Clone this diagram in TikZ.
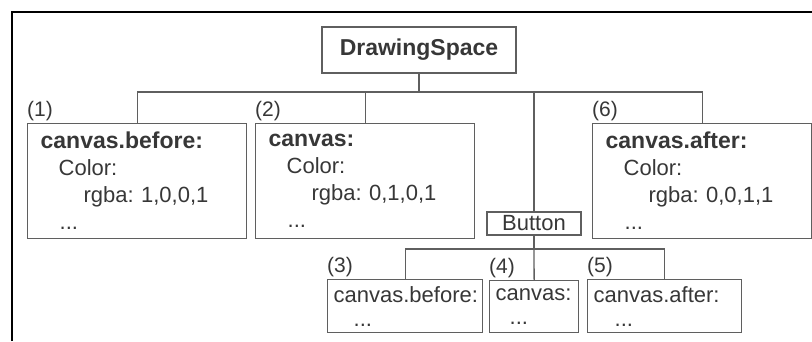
\documentclass[tikz,border=0pt]{standalone}
\usepackage{fontspec}
\setmainfont{Liberation Sans}
\usetikzlibrary{positioning,calc}
\usepackage{xcolor}
\definecolor{inkgray}{RGB}{55,55,55}
\definecolor{linegray}{RGB}{95,95,95}
\frenchspacing

\begin{document}
\begin{tikzpicture}[x=1pt,y=-1pt,
  bigbox/.style={draw=linegray,line width=1.3pt,anchor=north west,align=left,
                 text=inkgray,inner xsep=13pt,inner ysep=0pt,
                 text width=193pt,minimum height=115pt,
                 font=\fontsize{22}{27}\selectfont},
  subbox/.style={draw=linegray,line width=1.3pt,anchor=north west,align=left,
                 text=inkgray,inner xsep=6pt,inner ysep=0pt,minimum height=53pt,
                 font=\fontsize{22}{24}\selectfont},
  title/.style={draw=linegray,line width=1.3pt,text=inkgray,inner sep=0pt,
                font=\fontsize{22}{24}\selectfont},
  num/.style={anchor=south west,inner sep=0pt,yshift=2pt,text=inkgray,
              font=\fontsize{21}{24}\selectfont},
  link/.style={draw=linegray,line width=1.3pt}
]
  \useasboundingbox (0,0) rectangle (812,341);
  % outer frame (only top and left edges show)
  \draw[line width=2pt] (11.5,341) -- (11.5,11.5) -- (812,11.5);

  %% ---- root ----
  \node[title,minimum width=194pt,minimum height=46pt] (space) at (419,50)
    {\fontsize{23}{24}\selectfont\textbf{DrawingSpace}};

  %% ---- the three instructions groups of the widget ----
  \node[bigbox] (before) at (27,123) {
    \textbf{\fontsize{23}{27}\selectfont canvas.before:}\\
    \hspace*{18pt}Color:\\
    \hspace*{43pt}rgba: 1,0,0,1\\
    \hspace*{19pt}...
  };
  \node[bigbox] (canvas) at (255,123) {
    \textbf{\fontsize{23}{27}\selectfont canvas:}\\
    \hspace*{18pt}Color:\\
    \hspace*{43pt}rgba: 0,1,0,1\\
    \hspace*{19pt}...
  };
  \node[bigbox] (after) at (592,123) {
    \textbf{\fontsize{23}{27}\selectfont canvas.after:}\\
    \hspace*{18pt}Color:\\
    \hspace*{43pt}rgba: 0,0,1,1\\
    \hspace*{19pt}...
  };

  %% ---- child widget ----
  \node[title,minimum width=94pt,minimum height=23pt] (button) at (534,223.5)
    {Button};

  %% ---- groups of the child ----
  \node[subbox,text width=143pt] (subbefore) at (327,279) {
    canvas.before:\\
    \hspace*{20pt}...
  };
  \node[subbox,text width=77pt,minimum height=52pt] (subcanvas) at (489,280) {
    canvas:\\
    \hspace*{14pt}...
  };
  \node[subbox,text width=142pt] (subafter) at (587,279) {
    canvas.after:\\
    \hspace*{21pt}...
  };

  %% ---- numbers: order of drawing ----
  \node[num] at (before.north west)    {(1)};
  \node[num] at (canvas.north west)    {(2)};
  \node[num] at (subbefore.north west) {(3)};
  \node[num] at (subcanvas.north west) {(4)};
  \node[num] at (subafter.north west)  {(5)};
  \node[num] at (after.north west)     {(6)};

  %% ---- tree lines ----
  \coordinate (bus) at (0,92);
  \coordinate (lowbus) at (0,249);
  \draw[link] (space.south) -- (space.south |- bus) -| (before.north);
  \draw[link] (space.south |- bus) -| (canvas.north);
  \draw[link] (space.south |- bus) -| (button.north);
  \draw[link] (space.south |- bus) -| (after.north);

  \draw[link] (button.south) -- (button.south |- lowbus) -| (subbefore.north);
  \draw[link] (button.south |- lowbus) -- (subcanvas.north);
  \draw[link] (button.south |- lowbus) -| (subafter.north);
\end{tikzpicture}
\end{document}
